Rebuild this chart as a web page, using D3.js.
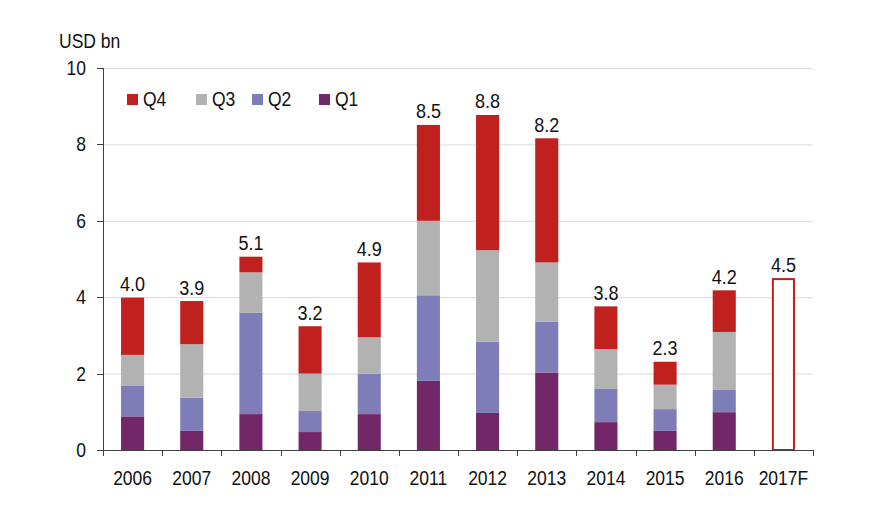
<!DOCTYPE html>
<html>
<head>
<meta charset="utf-8">
<script src="https://cdn.jsdelivr.net/npm/d3@7"></script>
<style>
  html, body { margin: 0; padding: 0; background: #fff; }
  svg { display: block; }
  text { font-family: "Liberation Sans", Arial, sans-serif; fill: #111; }
</style>
</head>
<body>
<script>
// ---- Data ----
const years = ["2006","2007","2008","2009","2010","2011","2012","2013","2014","2015","2016","2017F"];
const q1 = [0.88, 0.50, 0.94, 0.47, 0.94, 1.81, 0.97, 2.03, 0.73, 0.50, 0.99, 0];
const q2 = [0.81, 0.87, 2.65, 0.55, 1.06, 2.24, 1.87, 1.33, 0.87, 0.57, 0.58, 0];
const q3 = [0.80, 1.40, 1.06, 0.98, 0.95, 1.95, 2.39, 1.55, 1.04, 0.64, 1.52, 0];
const q4 = [1.50, 1.13, 0.41, 1.24, 1.96, 2.51, 3.54, 3.25, 1.12, 0.60, 1.09, 0];
const forecast = [null, null, null, null, null, null, null, null, null, null, null, 4.5];
const totalLabels = ["4.0","3.9","5.1","3.2","4.9","8.5","8.8","8.2","3.8","2.3","4.2","4.5"];
const yTicks = [0, 2, 4, 6, 8, 10];
const seriesNames = ["Q1","Q2","Q3","Q4"];
const legendOrder = ["Q4","Q3","Q2","Q1"];

// ---- Layout / style ----
const W = 884, H = 506;
const colors = { Q1: "#722868", Q2: "#7F7DB8", Q3: "#B1B2B1", Q4: "#C0211E" };
const VS = 1.16; // vertical text stretch as in reference

const svg = d3.select("body").append("svg").attr("width", W).attr("height", H);

const x = d3.scaleBand().domain(years).range([103, 813]).paddingInner(0.61).paddingOuter(0.305);
const y = d3.scaleLinear().domain([0, 10]).range([450, 68]);
const step = x.step();
const boundary = i => 103 + i * step;

function txt(g, s, px, py, anchor, size) {
  return g.append("text")
    .attr("transform", `translate(${px},${py}) scale(1,${VS})`)
    .attr("text-anchor", anchor)
    .style("font-size", size + "px")
    .text(s);
}

// gridlines
svg.append("g").selectAll("line").data(yTicks.filter(d => d > 0)).join("line")
  .attr("x1", 103).attr("x2", 813)
  .attr("y1", d => y(d) + 0.5).attr("y2", d => y(d) + 0.5)
  .attr("stroke", "#D9D9D9").attr("stroke-width", 1);

// stacked bars
const table = years.map((yr, i) => ({ year: yr, Q1: q1[i], Q2: q2[i], Q3: q3[i], Q4: q4[i] }));
const stacked = d3.stack().keys(seriesNames)(table);
svg.append("g").selectAll("g").data(stacked).join("g")
  .attr("fill", d => colors[d.key])
  .selectAll("rect").data(d => d.filter(s => s[1] - s[0] > 0)).join("rect")
  .attr("x", d => x(d.data.year))
  .attr("width", x.bandwidth())
  .attr("y", d => y(d[1]))
  .attr("height", d => y(d[0]) - y(d[1]));

// forecast outline bar
svg.append("g").selectAll("rect").data(years.map((yr, i) => ({ year: yr, v: forecast[i] })).filter(d => d.v != null)).join("rect")
  .attr("x", d => x(d.year) + 1)
  .attr("width", x.bandwidth() - 2)
  .attr("y", d => y(d.v) + 1)
  .attr("height", d => y(0) - y(d.v) - 1)
  .attr("fill", "#fff")
  .attr("stroke", "#C0211E").attr("stroke-width", 2);

// total labels
const tops = years.map((yr, i) => forecast[i] != null ? forecast[i] : q1[i] + q2[i] + q3[i] + q4[i]);
const lblG = svg.append("g");
years.forEach((yr, i) => {
  txt(lblG, totalLabels[i], x(yr) + x.bandwidth() / 2, y(tops[i]) - 6.5, "middle", 18);
});

// axes
const axisColor = "#404040";
const ax = svg.append("g").attr("stroke", axisColor).attr("stroke-width", 1);
ax.append("line").attr("x1", 103.5).attr("x2", 103.5).attr("y1", 68).attr("y2", 456);
ax.append("line").attr("x1", 103).attr("x2", 813.5).attr("y1", 450.5).attr("y2", 450.5);
ax.selectAll(".yt").data(yTicks).join("line").attr("class", "yt")
  .attr("x1", 97).attr("x2", 103.5).attr("y1", d => Math.round(y(d)) + 0.5).attr("y2", d => Math.round(y(d)) + 0.5);
ax.selectAll(".xt").data(d3.range(1, years.length + 1)).join("line").attr("class", "xt")
  .attr("x1", d => Math.round(boundary(d)) + 0.5).attr("x2", d => Math.round(boundary(d)) + 0.5)
  .attr("y1", 450).attr("y2", 456);

const tg = svg.append("g");
yTicks.forEach(t => txt(tg, String(t), 86, y(t) + 7, "end", 17.5));
years.forEach(yr => txt(tg, yr, x(yr) + x.bandwidth() / 2, 485, "middle", 17.5));
txt(tg, "USD bn", 59, 48, "start", 17.5);

// legend
const legX = { Q4: 127, Q3: 196, Q2: 252, Q1: 319 };
const lg = svg.append("g");
legendOrder.forEach(k => {
  lg.append("rect").attr("x", legX[k]).attr("y", 94).attr("width", 11).attr("height", 11).attr("fill", colors[k]);
  txt(lg, k, legX[k] + 16, 106, "start", 17.5);
});
</script>
</body>
</html>
